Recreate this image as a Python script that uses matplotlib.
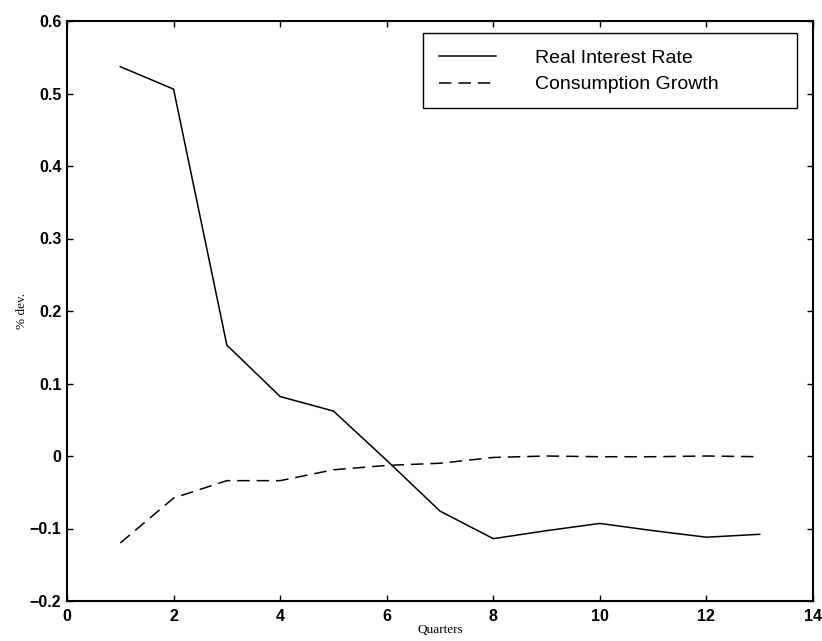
import matplotlib
matplotlib.use("Agg")
import matplotlib.pyplot as plt
from matplotlib.patches import Rectangle

quarters = [1, 2, 3, 4, 5, 6, 7, 8, 9, 10, 11, 12, 13]
real_rate = [0.537, 0.506, 0.153, 0.082, 0.062, -0.006, -0.076, -0.114,
             -0.103, -0.093, -0.103, -0.112, -0.108]
cons_growth = [-0.120, -0.058, -0.034, -0.034, -0.019, -0.013, -0.010,
               -0.002, 0.000, -0.001, -0.001, 0.000, -0.001]
xticks = [0, 2, 4, 6, 8, 10, 12, 14]
xticklabels = ["0", "2", "4", "6", "8", "10", "12", "14"]
yticks = [-0.2, -0.1, 0.0, 0.1, 0.2, 0.3, 0.4, 0.5, 0.6]
yticklabels = ["\u22120.2", "\u22120.1", "0", "0.1", "0.2", "0.3", "0.4", "0.5", "0.6"]
series_names = ["Real Interest Rate", "Consumption Growth"]

fig = plt.figure(figsize=(8.22, 6.41), dpi=100)
ax = fig.add_axes([67 / 822, 1 - 601 / 641, (813 - 67) / 822, (601 - 21) / 641])

lw = 1.1
l1, = ax.plot(quarters, real_rate, color="black", lw=lw, solid_joinstyle="miter")
l2, = ax.plot(quarters, cons_growth, color="black", lw=lw,
              dashes=(9.0 / lw, 5.0 / lw))

ax.set_xlim(0, 14)
ax.set_ylim(-0.2, 0.6)
ax.set_xticks(xticks)
ax.set_xticklabels(xticklabels, fontfamily="Liberation Sans", fontweight="bold", fontsize=11.5)
ax.set_yticks(yticks)
ax.set_yticklabels(yticklabels, fontfamily="Liberation Sans", fontweight="bold", fontsize=11.5)
ax.tick_params(direction="in", length=4, width=1.0, top=True, right=True)
ax.tick_params(axis="x", pad=6)
ax.tick_params(axis="y", pad=4)
for s in ax.spines.values():
    s.set_linewidth(1.5)

ax.set_xlabel("Quarters", fontfamily="Liberation Serif", fontsize=9.5, labelpad=0)
ax.set_ylabel("% dev.", fontfamily="Liberation Serif", fontsize=9.5, labelpad=1)

# legend box (MATLAB style, wide frame)
ax.add_patch(Rectangle((0.477, 0.850), 0.502, 0.129, transform=ax.transAxes,
                       fill=True, facecolor="white", edgecolor="black", lw=1.0, zorder=4))
leg = ax.legend([l1, l2], series_names, loc="center left",
                bbox_to_anchor=(0.499, 0.913), frameon=False, borderpad=0,
                borderaxespad=0, handlelength=2.9, handletextpad=2.0,
                labelspacing=0.45, prop={"family": "Liberation Sans", "size": 14})
leg.set_zorder(5)

fig.savefig("out.png", dpi=100)
